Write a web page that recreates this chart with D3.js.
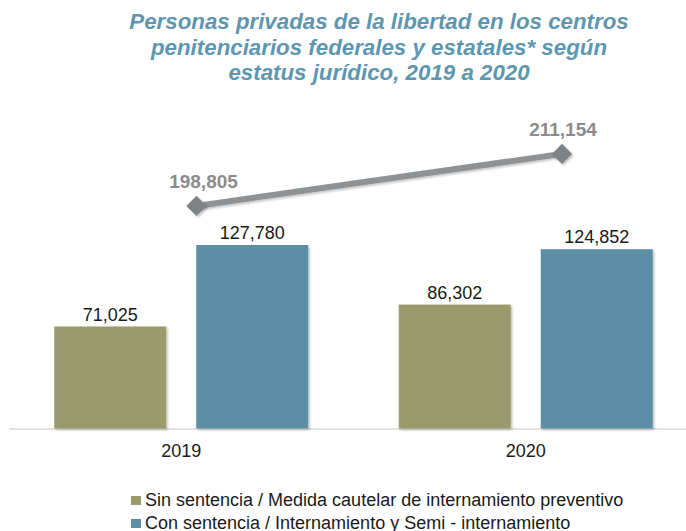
<!DOCTYPE html>
<html>
<head>
<meta charset="utf-8">
<script src="https://cdn.jsdelivr.net/npm/d3@7"></script>
<style>
  html, body { margin: 0; padding: 0; background: #fff; }
  svg { display: block; font-family: "Liberation Sans", Arial, sans-serif; }
</style>
</head>
<body>
<svg id="chart" width="686" height="531"></svg>
<script>
// Personas privadas de la libertad por estatus jurídico
const years = ["2019", "2020"];
const seriesNames = [
  "Sin sentencia / Medida cautelar de internamiento preventivo",
  "Con sentencia / Internamiento y Semi - internamiento"
];
const sinSentencia = [71025, 86302];
const conSentencia = [127780, 124852];
const totals = [198805, 211154];
const titleLines = [
  "Personas privadas de la libertad en los centros",
  "penitenciarios federales y estatales* según",
  "estatus jurídico, 2019 a 2020"
];

const colors = ["#9a9a6d", "#5b8ea6"];
const fmt = d3.format(",");

const svg = d3.select("#chart");
const baseY = 428.5;

const defs = svg.append("defs");
const sh = defs.append("filter").attr("id", "shadow")
  .attr("x", "-20%").attr("y", "-20%").attr("width", "150%").attr("height", "150%");
sh.append("feDropShadow").attr("dx", 1.5).attr("dy", 1.5).attr("stdDeviation", 1)
  .attr("flood-color", "#000").attr("flood-opacity", 0.25);

// Title
svg.append("g").selectAll("text").data(titleLines).join("text")
  .attr("x", 379).attr("y", (d, i) => 29 + i * 25.5)
  .attr("text-anchor", "middle")
  .attr("font-size", 22.3).attr("font-weight", "bold").attr("font-style", "italic")
  .attr("fill", "#5e96b0")
  .text(d => d);

// Scales
const x0 = d3.scaleBand().domain(years).range([9, 698]).padding(0);
const x1 = d3.scaleBand().domain([0, 1]).range([0, 254]).paddingInner(0.2113);
const groupOffset = (x0.bandwidth() - 254) / 2;
const y = d3.scaleLinear().domain([0, 140000]).range([baseY, baseY - 140000 * 0.001436]);
const y2 = d3.scaleLinear().domain([146000, 216000]).range([baseY, baseY - 70000 * 0.004215]);
const xLine = d3.scalePoint().domain(years).range([196.5, 562]);

// Baseline
svg.append("line")
  .attr("x1", 9).attr("x2", 686).attr("y1", baseY + 0.5).attr("y2", baseY + 0.5)
  .attr("stroke", "#d9d9d9").attr("stroke-width", 1.5);

// Bars
const series = [sinSentencia, conSentencia];
const groups = svg.append("g").selectAll("g").data(years).join("g")
  .attr("transform", d => `translate(${x0(d) + groupOffset},0)`);

groups.each(function(yr, yi) {
  const g = d3.select(this);
  series.forEach((vals, si) => {
    const v = vals[yi];
    g.append("rect")
      .attr("x", x1(si)).attr("width", x1.bandwidth())
      .attr("y", y(v)).attr("height", baseY - y(v))
      .attr("fill", colors[si])
      .attr("filter", "url(#shadow)");
    g.append("text")
      .attr("x", x1(si) + x1.bandwidth() / 2).attr("y", y(v) - 6)
      .attr("text-anchor", "middle").attr("font-size", 18).attr("fill", "#1a1a1a")
      .text(fmt(v));
  });
});

// Category axis labels
svg.append("g").selectAll("text").data(years).join("text")
  .attr("x", d => x0(d) + x0.bandwidth() / 2).attr("y", 457)
  .attr("text-anchor", "middle").attr("font-size", 18).attr("fill", "#1a1a1a")
  .text(d => d);

// Total line
const lineGen = d3.line().x((d, i) => xLine(years[i])).y(d => y2(d));
svg.append("path").datum(totals)
  .attr("d", lineGen).attr("fill", "none")
  .attr("stroke", "#8e9295").attr("stroke-width", 6)
  .attr("filter", "url(#shadow)");

svg.append("g").selectAll("path").data(totals).join("path")
  .attr("d", d3.symbol(d3.symbolDiamond2, 260)())
  .attr("transform", (d, i) => `translate(${xLine(years[i])},${y2(d)})`)
  .attr("fill", "#7f8386")
  .attr("filter", "url(#shadow)");

svg.append("g").selectAll("text").data(totals).join("text")
  .attr("x", (d, i) => xLine(years[i]) + (i === 0 ? 7 : 1))
  .attr("y", d => y2(d) - 18)
  .attr("text-anchor", "middle").attr("font-size", 19).attr("font-weight", "bold")
  .attr("fill", "#8b8b8b")
  .text(d => fmt(d));

// Legend
const legend = svg.append("g").selectAll("g").data(seriesNames).join("g")
  .attr("transform", (d, i) => `translate(131,${506 + i * 23})`);
legend.append("rect")
  .attr("x", 0).attr("y", -10).attr("width", 10).attr("height", 9)
  .attr("fill", (d, i) => colors[i]);
legend.append("text")
  .attr("x", 14).attr("y", 0)
  .attr("font-size", 18).attr("fill", "#1a1a1a")
  .text(d => d);
</script>
</body>
</html>
